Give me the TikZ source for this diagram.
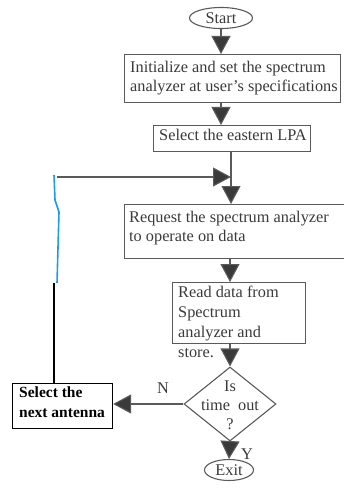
\documentclass[tikz,border=0pt]{standalone}
\usepackage{fontspec}
\setmainfont{Liberation Serif}
\usetikzlibrary{shapes.geometric,arrows.meta}

\definecolor{ink}{HTML}{3A3A3A}
\definecolor{wire}{HTML}{5A5A5A}
\definecolor{pen}{HTML}{1E9BE8}

\begin{document}
\begin{tikzpicture}[x=1pt,y=-1pt,
  every node/.style={text=ink,font=\fontsize{16.3}{19}\selectfont},
  procbox/.style={draw=wire,line width=1.1pt,anchor=north west,inner sep=0pt},
  boxtext/.style={anchor=north west,align=left,inner sep=0pt},
  term/.style={draw=wire,line width=1.1pt,ellipse,inner sep=0pt},
  flow/.style={draw=wire,line width=1.1pt,-{Triangle[width=19pt,length=18pt,fill=ink]}}]
\useasboundingbox (0,0) rectangle (343,489);
% terminals
\node[term,minimum width=63pt,minimum height=21pt] (start) at (221,18) {Start};
\node[term,minimum width=49pt,minimum height=21pt] (exit) at (229,470) {Exit};
% process boxes
\node[procbox,minimum width=216pt,minimum height=48pt] (init) at (124,54) {};
\node[boxtext] (inittext) at (130,61) {Initialize and set the spectrum\\analyzer at user's specifications};
\node[procbox,minimum width=157pt,minimum height=26pt] (lpa) at (153,125) {};
\node[boxtext] (lpatext) at (159,129) {Select the eastern LPA};
\node[procbox,minimum width=220pt,minimum height=54pt] (req) at (124,204) {};
\node[boxtext] (reqtext) at (129,211) {Request the spectrum analyzer\\to operate on data};
\node[procbox,minimum width=133pt,minimum height=61pt] (read) at (172,282) {};
\node[boxtext,font=\fontsize{16.3}{20}\selectfont] (readtext) at (178,286) {Read data from\\Spectrum\\analyzer and\\store.};
\node[procbox,draw=black,minimum width=100pt,minimum height=45pt] (ant) at (12,383) {};
\node[boxtext,text=black,font=\fontsize{15.5}{20}\bfseries] (anttext) at (19,387) {Select the\\next antenna};
% decision
\node[draw=wire,line width=1.1pt,diamond,minimum width=92pt,minimum height=74pt,inner sep=0pt] (tout) at (230,404) {};
\node[align=center,inner sep=0pt] (touttext) at (230,405) {Is\\time\enspace out\\?};
\node[inner sep=0pt] (nlab) at (163,388) {N};
\node[inner sep=0pt] (ylab) at (247,454) {Y};
% connectors
\coordinate (join) at (231,177);
\coordinate (loop) at (57,177);
\coordinate (bend) at (54,283);
\draw[flow] (start) -- (start |- init.north);
\draw[flow] (start |- init.south) -- (start |- lpa.north);
\draw[flow] (lpa.south -| join) -- (join |- req.north);
\draw[flow] (loop) -- (join);
\draw[flow] (req.south -| tout) -- (tout |- read.north);
\draw[flow] (tout |- read.south) -- (tout.north);
\draw[flow] (tout.west) -- (ant.east |- tout.west);
\draw[flow] (tout.south) -- (exit.north);
\draw[pen,line width=1.6pt] (54,175) -- (55,200) -- (59,212) -- (57,283);
\draw[black,line width=1.6pt] (bend) -- (bend |- ant.north);
\end{tikzpicture}
\end{document}
